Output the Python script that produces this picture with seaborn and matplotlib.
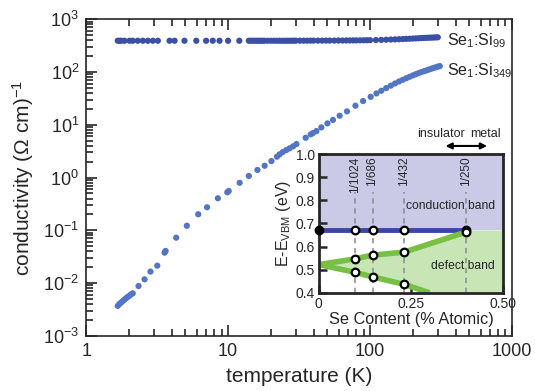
import numpy as np
import pandas as pd
import matplotlib
matplotlib.use("Agg")
import matplotlib.pyplot as plt
import matplotlib.ticker as mticker
import seaborn as sns

# ---------------- data ----------------
t_si99 = [1.67, 1.72, 1.77, 1.86, 2.02, 2.13, 2.31, 2.51, 2.72, 2.95, 3.2, 3.87, 4.2,
          4.93, 5.97, 7.0, 7.8, 8.7, 10.0, 12.0, 14.0, 14.5, 15.0, 15.5, 16.0, 16.5,
          17.0, 17.5, 18.0, 19.0, 20.0, 21.0, 22.0, 23.0, 24.0, 25.0, 26.0, 27.0,
          28.0, 29.0, 30.0, 32.0, 34.0, 36.0, 38.0, 40.0, 43.0, 46.0, 49.0, 52.0,
          56.0, 60.0, 64.0, 68.0, 72.0, 76.0, 80.0, 85.0, 90.0, 95.0, 100.0, 110.0,
          120.0, 130.0, 140.0, 150.0, 160.0, 170.0, 180.0, 190.0, 200.0, 210.0,
          220.0, 230.0, 240.0, 250.0, 260.0, 270.0, 280.0, 290.0, 300.0]
s_si99 = [390, 390, 390, 390, 390, 390, 390, 390, 390, 390, 390, 390, 390,
          390, 390, 390, 390, 390, 390, 390, 390, 390, 390, 390, 390, 390,
          390, 390, 390, 390, 390, 390, 390, 390, 390, 390, 390, 390,
          391, 391, 391, 391, 391, 391, 392, 392, 392, 392, 393, 393,
          393, 394, 394, 395, 395, 396, 396, 397, 398, 399, 400, 402,
          405, 408, 411, 414, 417, 420, 423, 426, 429, 432,
          435, 438, 441, 443, 445, 447, 449, 451, 453]

t_si349 = [1.67, 1.71, 1.75, 1.80, 1.85, 1.90, 1.95, 2.01, 2.07, 2.13, 2.34, 2.58,
           2.84, 3.17, 3.57, 3.63, 4.31, 5.12, 6.16, 7.11, 8.47, 9.87, 10.1, 12.06,
           14.0, 16.1, 18.1, 20.2, 22.1, 23.1, 24.3, 25.7, 27.1, 28.7, 30.3, 35.2,
           38.2, 39.6, 41.9, 45.4, 50.1, 54.8, 61.1, 68.8, 78.9, 89.3, 101.0, 111.0,
           120.0, 130.0, 140.0, 150.0, 160.0, 170.0, 180.0, 190.0, 200.0, 210.0,
           220.0, 230.0, 240.0, 250.0, 260.0, 270.0, 280.0, 290.0, 300.0, 310.0]
s_si349 = [0.0037, 0.0040, 0.0042, 0.0045, 0.0048, 0.0051, 0.0054, 0.0057, 0.0061,
           0.0064, 0.0088, 0.0118, 0.0165, 0.0214, 0.0377, 0.0406, 0.0725, 0.122,
           0.201, 0.273, 0.404, 0.525, 0.555, 0.794, 1.07, 1.39, 1.67, 2.05, 2.48,
           2.75, 3.04, 3.31, 3.57, 3.89, 4.30, 5.66, 6.57, 6.95, 7.59, 8.91, 10.6,
           12.3, 14.8, 17.9, 22.9, 28.1, 33.8, 39.2, 44.0, 49.5, 55.0, 60.5, 66.0,
           71.0, 76.0, 81.0, 86.0, 90.5, 95.0, 99.5, 103.5, 107.0, 111.0, 115.0,
           119.0, 122.5, 126.0, 129.0]

series_labels = ["Se$_{1}$:Si$_{99}$", "Se$_{1}$:Si$_{349}$"]

# inset data
se_content = [0.0977, 0.1458, 0.2315, 0.40]           # % atomic
comp_labels = ["1/1024", "1/686", "1/432", "1/250"]
cb_level = 0.67
upper_x = [0.0, 0.0977, 0.1458, 0.2315, 0.40]
upper_e = [0.522, 0.547, 0.563, 0.576, 0.663]
lower_x = [0.0, 0.0977, 0.1458, 0.2315, 0.301]
lower_e = [0.522, 0.489, 0.469, 0.437, 0.40]

# ---------------- style ----------------
sns.set_style("ticks")
plt.rcParams["font.family"] = ["Liberation Sans", "DejaVu Sans"]
plt.rcParams["mathtext.fontset"] = "custom"
plt.rcParams["mathtext.rm"] = "Liberation Sans"
plt.rcParams["mathtext.it"] = "Liberation Sans:italic"
plt.rcParams["mathtext.default"] = "regular"

fig = plt.figure(figsize=(5.35, 3.91), dpi=100)
ax = fig.add_axes([0.161, 0.141, 0.796, 0.810])

c99 = "#3a50a6"
c349 = "#5375c4"
df99 = pd.DataFrame({"T": t_si99, "sigma": s_si99})
df349 = pd.DataFrame({"T": t_si349, "sigma": s_si349})
sns.scatterplot(data=df99, x="T", y="sigma", ax=ax, color=c99, s=20,
                edgecolor="none", linewidth=0, zorder=3)
sns.scatterplot(data=df349, x="T", y="sigma", ax=ax, color=c349, s=20,
                edgecolor="none", linewidth=0, zorder=3)
ax.set_xscale("log")
ax.set_yscale("log")
ax.set_xlim(1, 1000)
ax.set_ylim(1e-3, 1e3)
ax.xaxis.set_major_locator(mticker.FixedLocator([1, 10, 100, 1000]))
ax.xaxis.set_major_formatter(mticker.FixedFormatter(["1", "10", "100", "1000"]))
ax.xaxis.set_minor_locator(mticker.LogLocator(base=10, subs=np.arange(2, 10), numticks=20))
ax.yaxis.set_major_locator(mticker.LogLocator(base=10, numticks=20))
ax.yaxis.set_minor_locator(mticker.LogLocator(base=10, subs=np.arange(2, 10), numticks=20))
ax.yaxis.set_minor_formatter(mticker.NullFormatter())
ax.xaxis.set_minor_formatter(mticker.NullFormatter())
ax.tick_params(axis="both", which="major", direction="in", length=8, width=1.2,
               labelsize=13, pad=5, top=True, right=False)
ax.tick_params(axis="both", which="minor", direction="in", length=5, width=1.2,
               top=True, right=False)
for sp in ax.spines.values():
    sp.set_linewidth(1.2)
    sp.set_visible(True)
ax.set_xlabel("temperature (K)", fontsize=15, labelpad=5)
ax.set_ylabel("conductivity (Ω cm)$^{-1}$", fontsize=15, labelpad=5)

ax.text(350, 390, series_labels[0], fontsize=11.5, va="center", ha="left")
ax.text(350, 108, series_labels[1], fontsize=11.5, va="center", ha="left")

# ---------------- inset ----------------
ins = fig.add_axes([0.596, 0.251, 0.344, 0.355])
ins.set_xlim(0, 0.5)
ins.set_ylim(0.4, 1.0)
ins.fill_between([0, 0.5], [cb_level, cb_level], [1.0, 1.0], color="#cacae7", lw=0, zorder=0)
poly_x = upper_x + [0.40, 0.5, 0.5] + lower_x[::-1]
poly_y = upper_e + [cb_level, cb_level, 0.4] + lower_e[::-1]
ins.fill(poly_x, poly_y, color="#c8e6b5", lw=0, zorder=0)
for xv, lab in zip(se_content, comp_labels):
    ins.plot([xv, xv], [0.4, 0.835], ls=(0, (3.5, 3)), color="#8a8a8a", lw=1.1, zorder=1)
    ins.text(xv, 0.99, lab, rotation=90, ha="center", va="top", fontsize=8.5)
ins.plot([0, 0.40], [cb_level, cb_level], color="#3c46a4", lw=3.5, zorder=2,
         solid_capstyle="butt")
green = "#77c043"
ins.plot(upper_x, upper_e, color=green, lw=4, zorder=2, solid_capstyle="butt")
ins.plot(lower_x, lower_e, color=green, lw=4, zorder=2, solid_capstyle="butt")
mk_x = se_content + upper_x[1:] + lower_x[1:4]
mk_y = [cb_level] * 4 + upper_e[1:] + lower_e[1:4]
ins.scatter(mk_x, mk_y, s=30, facecolor="white", edgecolor="black", linewidth=1.6,
            zorder=4)
ins.scatter([0], [cb_level], s=36, color="black", zorder=5, clip_on=False)
ins.text(0.358, 0.774, "conduction band", ha="center", va="center", fontsize=8.7)
ins.text(0.392, 0.518, "defect band", ha="center", va="center", fontsize=8.7)
ins.text(0.396, 1.085, "insulator", ha="right", va="center", fontsize=9, clip_on=False)
ins.text(0.411, 1.085, "metal", ha="left", va="center", fontsize=9, clip_on=False)
ins.annotate("", xy=(0.457, 1.035), xytext=(0.344, 1.035), xycoords="data",
             arrowprops=dict(arrowstyle="<|-|>", color="black", lw=1.5,
                             mutation_scale=9, shrinkA=0, shrinkB=0),
             annotation_clip=False)
ins.set_xticks([0, 0.25, 0.5])
ins.set_xticklabels(["0", "0.25", "0.50"])
ins.set_yticks([0.4, 0.5, 0.6, 0.7, 0.8, 0.9, 1.0])
ins.set_yticklabels(["0.4", "0.5", "0.6", "0.7", "0.8", "0.9", "1.0"])
ins.tick_params(axis="both", direction="in", length=6, width=1.8, labelsize=10, pad=3)
for sp in ins.spines.values():
    sp.set_linewidth(2)
    sp.set_visible(True)
ins.set_xlabel("Se Content (% Atomic)", fontsize=11.7, labelpad=1)
ins.set_ylabel("E-E$_{VBM}$ (eV)", fontsize=11.5, labelpad=2)

fig.savefig("out.png", dpi=100)
